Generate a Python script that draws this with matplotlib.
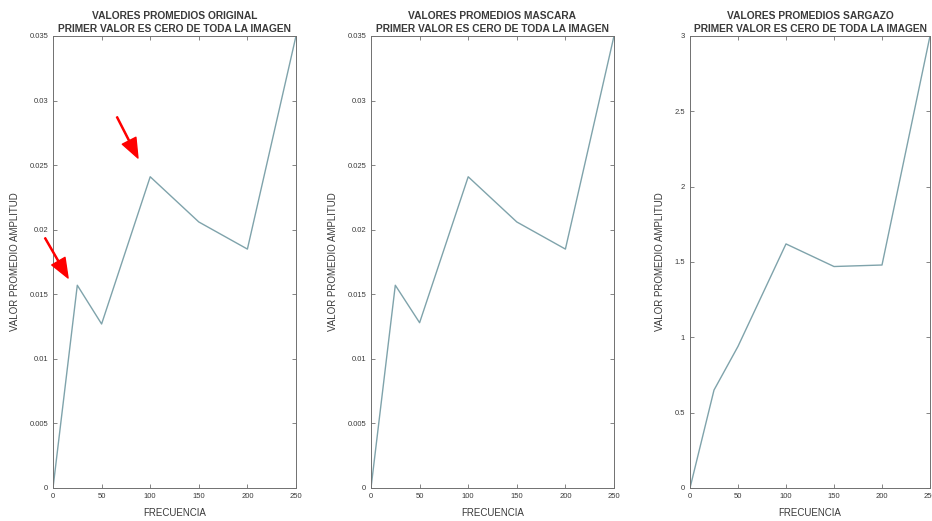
import matplotlib
matplotlib.use("Agg")
import matplotlib.pyplot as plt

plt.rcParams['font.family'] = ['Liberation Sans', 'DejaVu Sans']

# Frequencies and mean amplitude values
frecuencia = [0, 25, 50, 100, 150, 200, 250]
prom_original = [0.0, 0.0157, 0.0127, 0.0241, 0.0206, 0.0185, 0.035]
prom_mascara = [0.0, 0.0157, 0.0128, 0.0241, 0.0206, 0.0185, 0.035]
prom_sargazo = [0.0, 0.65, 0.94, 1.62, 1.47, 1.48, 3.0]

titulos = ['VALORES PROMEDIOS ORIGINAL',
           'VALORES PROMEDIOS MASCARA',
           'VALORES PROMEDIOS SARGAZO']
subtitulo = 'PRIMER VALOR ES CERO DE TODA LA IMAGEN'

x_ticks = [0, 50, 100, 150, 200, 250]
y_ticks_small = [0, 0.005, 0.01, 0.015, 0.02, 0.025, 0.03, 0.035]
y_tick_labels_small = ['0', '0.005', '0.01', '0.015', '0.02', '0.025', '0.03', '0.035']
y_ticks_sarg = [0, 0.5, 1, 1.5, 2, 2.5, 3]
y_tick_labels_sarg = ['0', '0.5', '1', '1.5', '2', '2.5', '3']

W, H = 932, 521
fig = plt.figure(figsize=(W / 100, H / 100), dpi=100)

line_color = '#7fa3ab'
axis_color = '#707070'
text_color = '#3a3a3a'

lefts = [53, 371, 690]
widths = [243, 243, 240]
top_px, bottom_px = 36, 488

series = [prom_original, prom_mascara, prom_sargazo]
yticks_all = [y_ticks_small, y_ticks_small, y_ticks_sarg]
ylabels_all = [y_tick_labels_small, y_tick_labels_small, y_tick_labels_sarg]
ylims = [0.035, 0.035, 3.0]

axes = []
for i in range(3):
    ax = fig.add_axes([lefts[i] / W, 1 - bottom_px / H, widths[i] / W,
                       (bottom_px - top_px) / H])
    ax.plot(frecuencia, series[i], color=line_color, linewidth=1.0)
    ax.set_xlim(0, 250)
    ax.set_ylim(0, ylims[i])
    ax.set_xticks(x_ticks)
    ax.set_xticklabels([str(t) for t in x_ticks])
    ax.set_yticks(yticks_all[i])
    ax.set_yticklabels(ylabels_all[i])
    ax.tick_params(direction='in', length=3, width=0.6, colors=axis_color,
                   labelcolor=text_color, labelsize=5.5, top=True, right=True,
                   pad=3.5)
    for sp in ax.spines.values():
        sp.set_color(axis_color)
        sp.set_linewidth(0.7)
    ax.set_title(titulos[i] + '\n' + subtitulo, fontsize=7.4,
                 fontweight='bold', color=text_color, pad=3, linespacing=1.35)
    ax.set_xlabel('FRECUENCIA', fontsize=7, color=text_color, labelpad=6)
    ax.set_ylabel('VALOR PROMEDIO AMPLITUD', fontsize=7, color=text_color,
                  labelpad=7)
    axes.append(ax)

# Red arrows pointing at the first peak and the main peak
arrow_style = dict(facecolor='red', edgecolor='red', width=0.8,
                   headwidth=11, headlength=14, shrink=0)
axes[0].annotate('', xy=(15.5, 0.01626), xytext=(-8.2, 0.01936),
                 xycoords='data', textcoords='data',
                 arrowprops=arrow_style, annotation_clip=False)
axes[0].annotate('', xy=(87.4, 0.02555), xytext=(65.8, 0.02873),
                 xycoords='data', textcoords='data',
                 arrowprops=arrow_style, annotation_clip=False)

fig.savefig('out.png', dpi=100, facecolor='white')
